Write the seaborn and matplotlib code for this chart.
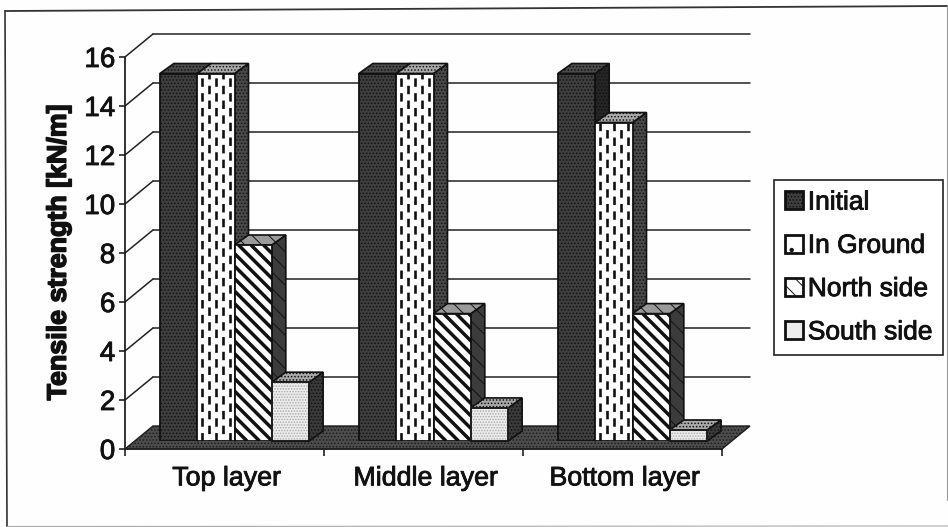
#!/usr/bin/env python3
import pandas as pd
import seaborn as sns
import matplotlib.pyplot as plt
import matplotlib.patheffects as pe
from matplotlib.collections import LineCollection
from matplotlib.patches import Polygon
from matplotlib.transforms import Affine2D, IdentityTransform

layers = ["Top layer", "Middle layer", "Bottom layer"]
series_names = ["Initial", "In Ground", "North side", "South side"]
initial = [15, 15, 15]
in_ground = [15, 15, 13]
north_side = [8.0, 5.2, 5.2]
south_side = [2.4, 1.35, 0.45]
y_ticks = [0, 2, 4, 6, 8, 10, 12, 14, 16]

W, H = 948, 527
sns.set_theme(style="white")
plt.rcParams['font.family'] = ['Liberation Sans', 'DejaVu Sans']
plt.rcParams['hatch.linewidth'] = 0.7

# scanned print: all text a bit heavier than the regular weight
heavy = [pe.withStroke(linewidth=0.6, foreground='#111111')]
heavier = [pe.withStroke(linewidth=1.1, foreground='#111111')]

df = pd.DataFrame({"layer": layers * 4,
                   "series": [s for s in series_names for _ in layers],
                   "strength": initial + in_ground + north_side + south_side})

fig = plt.figure(figsize=(W / 100, H / 100), dpi=100, facecolor='#fefefe')


def add_axes_px(x0, x1, y_top, y_bottom):
    return fig.add_axes([x0 / W, 1 - y_bottom / H, (x1 - x0) / W, (y_bottom - y_top) / H])


# front axis of the fake 3D box, the bars sit on a second axes moved into the box
ax = add_axes_px(125, 722, 57, 449)
ax_bars = add_axes_px(135, 732, 49, 441)
ax.patch.set_alpha(0)
ax_bars.patch.set_alpha(0)
ax_bars.set_zorder(ax.get_zorder() + 1)

ax.set_xlim(-0.5, 2.5)
ax.set_ylim(0, 16)
ax.set_yticks(y_ticks)
ax.set_xticks([-0.5, 0.5, 1.5, 2.5])
ax.set_xticklabels([])
for i, name in enumerate(layers):
    ax.text(i + 0.01, -1.2, name, ha='center', va='center', fontsize=19.3, color='#111111', path_effects=heavy)
ax.tick_params(axis='y', labelsize=20, length=4, width=1.2, color='#222222', pad=3, left=True, labelcolor='#111111')
ax.tick_params(axis='x', length=5, width=1.2, color='#222222', bottom=True)
for lab in ax.get_yticklabels():
    lab.set_path_effects(heavy)
ax.set_ylabel("Tensile strength [kN/m]", fontsize=19.3, fontweight='bold', color='#111111', labelpad=9,
              path_effects=heavier)
for side in ['top', 'right']:
    ax.spines[side].set_visible(False)
for side in ['left', 'bottom']:
    ax.spines[side].set_color('#222222')
    ax.spines[side].set_linewidth(1.3)

# back wall gridlines and floor
BOX_DX, BOX_DY = 28, 23
back = ax.transData + Affine2D().translate(BOX_DX, BOX_DY)
for v in y_ticks[1:]:
    ax.plot([-0.5, 2.5], [v, v], color='#222222', lw=1.1, transform=back, clip_on=False, zorder=1)
    p0 = ax.transData.transform((-0.5, v))
    ax.add_line(plt.Line2D([p0[0], p0[0] + BOX_DX], [p0[1], p0[1] + BOX_DY], color='#222222', lw=1.1,
                           transform=IdentityTransform(), clip_on=False, zorder=1))
a = ax.transData.transform((-0.5, 0))
b = ax.transData.transform((2.5, 0))
ax.add_patch(Polygon([a, b, b + (BOX_DX, BOX_DY), a + (BOX_DX, BOX_DY)], closed=True, transform=IdentityTransform(),
                     facecolor='#4d4d4d', edgecolor='#1c1c1c', hatch='.....', lw=1, clip_on=False, zorder=2))

sns.barplot(data=df, x="layer", y="strength", hue="series", hue_order=series_names, order=layers,
            width=0.75, gap=0, ax=ax_bars, legend=True, errorbar=None, saturation=1,
            palette=['#3f3f3f', '#ffffff', '#ffffff', '#ececec'], edgecolor='#111111', linewidth=1.3)
ax_bars.set_xlim(-0.5, 2.5)
ax_bars.set_ylim(0, 16)
ax_bars.axis('off')

DEPTH_DX, DEPTH_DY = 14, 10
fills = {
    "Initial": dict(top='#4a4a4a', side='#262626', hatch='.....'),
    "In Ground": dict(top='#ababab', side='#4a4a4a', hatch='.....'),
    "North side": dict(top='#9a9a9a', side='#3c3c3c', hatch='\\\\'),
    "South side": dict(top='#a8a8a8', side='#3a3a3a', hatch='.....'),
}


def draw_depth(bar, style, z):
    x0, y0 = bar.get_window_extent().min
    x1, y1 = bar.get_window_extent().max
    d = (DEPTH_DX, DEPTH_DY)
    top = [(x0, y1), (x1, y1), (x1 + d[0], y1 + d[1]), (x0 + d[0], y1 + d[1])]
    side = [(x1, y0), (x1 + d[0], y0 + d[1]), (x1 + d[0], y1 + d[1]), (x1, y1)]
    for pts, col in [(side, style['side']), (top, style['top'])]:
        ax_bars.add_patch(Polygon(pts, closed=True, transform=IdentityTransform(), facecolor=col, edgecolor='#111111',
                                  hatch=style['hatch'], lw=1.2, clip_on=False, zorder=z))


def outline(bar, z):
    x0, y0 = bar.get_window_extent().min
    x1, y1 = bar.get_window_extent().max
    ax_bars.add_patch(Polygon([(x0, y0), (x1, y0), (x1, y1), (x0, y1)], closed=True, transform=IdentityTransform(),
                              fill=False, edgecolor='#111111', lw=1.3, clip_on=False, zorder=z))


def dash_columns(bar, z):
    # the dashed fill of the In Ground bars
    x0, y0 = bar.get_window_extent().min
    x1, y1 = bar.get_window_extent().max
    for k in range(5):
        x = x0 + 5 + k * (x1 - x0 - 10) / 4
        off = 0 if k % 2 == 0 else 2.8
        line = plt.Line2D([x, x], [y0, y1], color='#111111', lw=1.9, linestyle=(off, (3.2, 2.4)),
                          transform=IdentityTransform(), clip_on=True, zorder=z)
        ax_bars.add_line(line)
        line.set_clip_path(bar)


def stripe_fill(bar, z, period=12.5):
    # wide diagonal stripes of the North side bars
    x0, y0 = bar.get_window_extent().min
    x1, y1 = bar.get_window_extent().max
    h = y1 - y0
    segs = []
    x = x0 - h - period
    while x < x1 + period:
        segs.append([(x, y1), (x + h, y0)])
        x += period
    lc = LineCollection(segs, colors='#111111', linewidths=2.5, transform=IdentityTransform(), zorder=z)
    ax_bars.add_collection(lc, autolim=False)
    lc.set_clip_path(bar)


fig.canvas.draw()
for s_idx, (container, name) in enumerate(zip(ax_bars.containers, series_names)):
    for bar in container:
        z = 3 + s_idx * 3
        draw_depth(bar, fills[name], z)
        bar.set_zorder(z + 1)
        if name == "Initial":
            bar.set_hatch('.....')
        elif name == "South side":
            # light stipple, the dark outline goes on separately
            bar.set_hatch('......')
            bar.set_edgecolor('#a8a8a8')
            outline(bar, z + 2)
        elif name == "In Ground":
            dash_columns(bar, z + 2)
        elif name == "North side":
            stripe_fill(bar, z + 2)

# legend box
handles, labels = ax_bars.get_legend_handles_labels()
for h, name in zip(handles, series_names):
    h.set_linewidth(2)
    if name == "Initial":
        h.set_hatch('.....')
    elif name == "In Ground":
        h.set_hatch('.')
    elif name == "North side":
        h.set_hatch('\\\\')
leg = ax_bars.legend(handles, labels, loc='upper left', bbox_to_anchor=(774 / W, 1 - 180 / H),
                     bbox_transform=fig.transFigure, fontsize=19, frameon=True, fancybox=False,
                     edgecolor='#222222', facecolor='white', framealpha=1, handlelength=0.68, handleheight=0.68,
                     handletextpad=0.2, labelspacing=0.73, borderpad=0.4, borderaxespad=0, labelcolor='#111111')
leg.get_frame().set_linewidth(1.2)
leg.set_zorder(50)
for t in leg.get_texts():
    t.set_path_effects(heavy)

# scanned outer frame, slightly skewed
fig.add_artist(plt.Line2D([5 / W, 7 / W], [1 - 11 / H, 1 - 527 / H], color='#333333', lw=1.2))
fig.add_artist(plt.Line2D([5 / W, 947 / W], [1 - 11 / H, 1 - 6 / H], color='#333333', lw=1.3))
fig.add_artist(plt.Line2D([947 / W, 947 / W], [1 - 6 / H, 1 - 500 / H], color='#999999', lw=0.8))
fig.add_artist(plt.Line2D([7 / W, 948 / W], [1 - 526.5 / H, 1 - 526 / H], color='#aaaaaa', lw=0.8))

fig.savefig('out.png', dpi=100, facecolor=fig.get_facecolor())
plt.close()
